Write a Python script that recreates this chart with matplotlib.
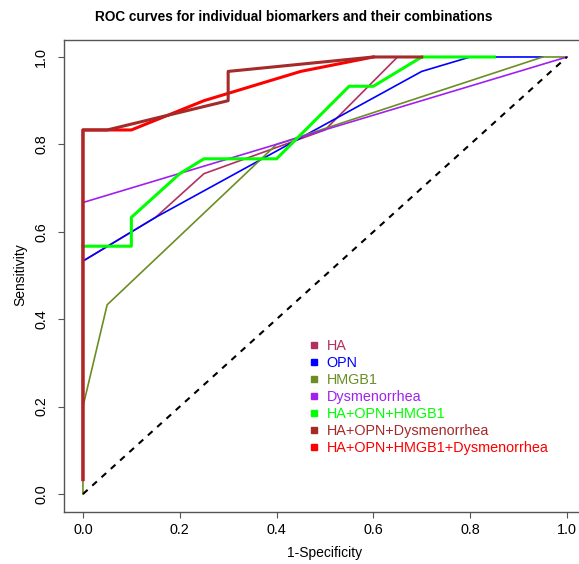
import matplotlib
matplotlib.use('Agg')
import matplotlib.pyplot as plt
from matplotlib.lines import Line2D

plt.rcParams['font.family'] = ['Liberation Sans', 'DejaVu Sans']

# ROC points (1-specificity, sensitivity)
ha_x = [0, 0.15, 0.25, 0.50, 0.65]
ha_y = [0.533, 0.633, 0.733, 0.833, 1.0]

opn_x = [0, 0.15, 0.70, 0.80, 0.95]
opn_y = [0.533, 0.633, 0.967, 1.0, 1.0]

hmgb1_x = [0, 0, 0.05, 0.40, 0.95, 1.0]
hmgb1_y = [0, 0.2, 0.433, 0.80, 1.0, 1.0]

dys_x = [0, 1.0]
dys_y = [0.667, 1.0]

combo3_x = [0, 0.10, 0.10, 0.20, 0.25, 0.40, 0.55, 0.60, 0.70, 0.85]
combo3_y = [0.567, 0.567, 0.633, 0.733, 0.767, 0.767, 0.933, 0.933, 1.0, 1.0]

combo_dys_x = [0, 0, 0.05, 0.30, 0.30, 0.60, 0.70]
combo_dys_y = [0.033, 0.833, 0.833, 0.90, 0.967, 1.0, 1.0]

combo_all_x = [0, 0, 0.10, 0.25, 0.45, 0.60]
combo_all_y = [0.033, 0.833, 0.833, 0.90, 0.967, 1.0]

labels = ['HA', 'OPN', 'HMGB1', 'Dysmenorrhea', 'HA+OPN+HMGB1',
          'HA+OPN+Dysmenorrhea', 'HA+OPN+HMGB1+Dysmenorrhea']
colors = ['#B03060', '#0000FF', '#6B8E23', '#A020F0', '#00FF00', '#A52A2A', '#FF0000']

W, H = 579, 564
fig = plt.figure(figsize=(W / 100, H / 100), dpi=100)
ax = fig.add_axes([63.6 / W, 52.5 / H, 522.7 / W, 472 / H])

thin = 1.2
thick = 2.2
ax.plot(ha_x, ha_y, color=colors[0], lw=thin)
ax.plot(opn_x, opn_y, color=colors[1], lw=thin)
ax.plot(hmgb1_x, hmgb1_y, color=colors[2], lw=thin)
ax.plot(dys_x, dys_y, color=colors[3], lw=thin)
ax.plot(combo3_x, combo3_y, color=colors[4], lw=thick)
ax.plot(combo_all_x, combo_all_y, color=colors[6], lw=thick)
ax.plot(combo_dys_x, combo_dys_y, color=colors[5], lw=thick)
ax.plot([0, 1], [0, 1], color='black', lw=1.5, linestyle=(0, (3, 3)))

ax.set_xlim(-0.04, 1.04)
ax.set_ylim(-0.04, 1.04)
ticks = [0.0, 0.2, 0.4, 0.6, 0.8, 1.0]
ax.set_xticks(ticks)
ax.set_yticks(ticks)
ax.set_xticklabels(['%.1f' % t for t in ticks], fontsize=10.4)
ax.set_yticklabels(['%.1f' % t for t in ticks], fontsize=10.4, rotation=90, va='center')
ax.tick_params(axis='x', length=4.5, width=0.8, color='#555555', pad=3.5)
ax.tick_params(axis='y', length=4.5, width=0.8, color='#555555', pad=6.5)
for s in ax.spines.values():
    s.set_color('#555555')
    s.set_linewidth(1.0)

fig.text(325 / W, 1 - 553 / H, '1-Specificity', fontsize=10, ha='center', va='center')
fig.text(20 / W, 1 - 275 / H, 'Sensitivity', fontsize=10, ha='center', va='center', rotation=90)
fig.text(293.5 / W, 1 - 17 / H, 'ROC curves for individual biomarkers and their combinations',
         fontsize=9.8, fontweight='bold', ha='center', va='center')

handles = [Line2D([], [], marker='s', linestyle='none', color=c, markersize=5) for c in colors]
ax.legend(handles, labels, labelcolor=colors, frameon=False, fontsize=10.4,
          loc='upper left', bbox_to_anchor=((302 - 63.6) / 522.7, (511.5 - 332) / 472),
          handlelength=0.6, handletextpad=0.6, labelspacing=0.21, borderpad=0)

fig.savefig('out.png', dpi=100)
